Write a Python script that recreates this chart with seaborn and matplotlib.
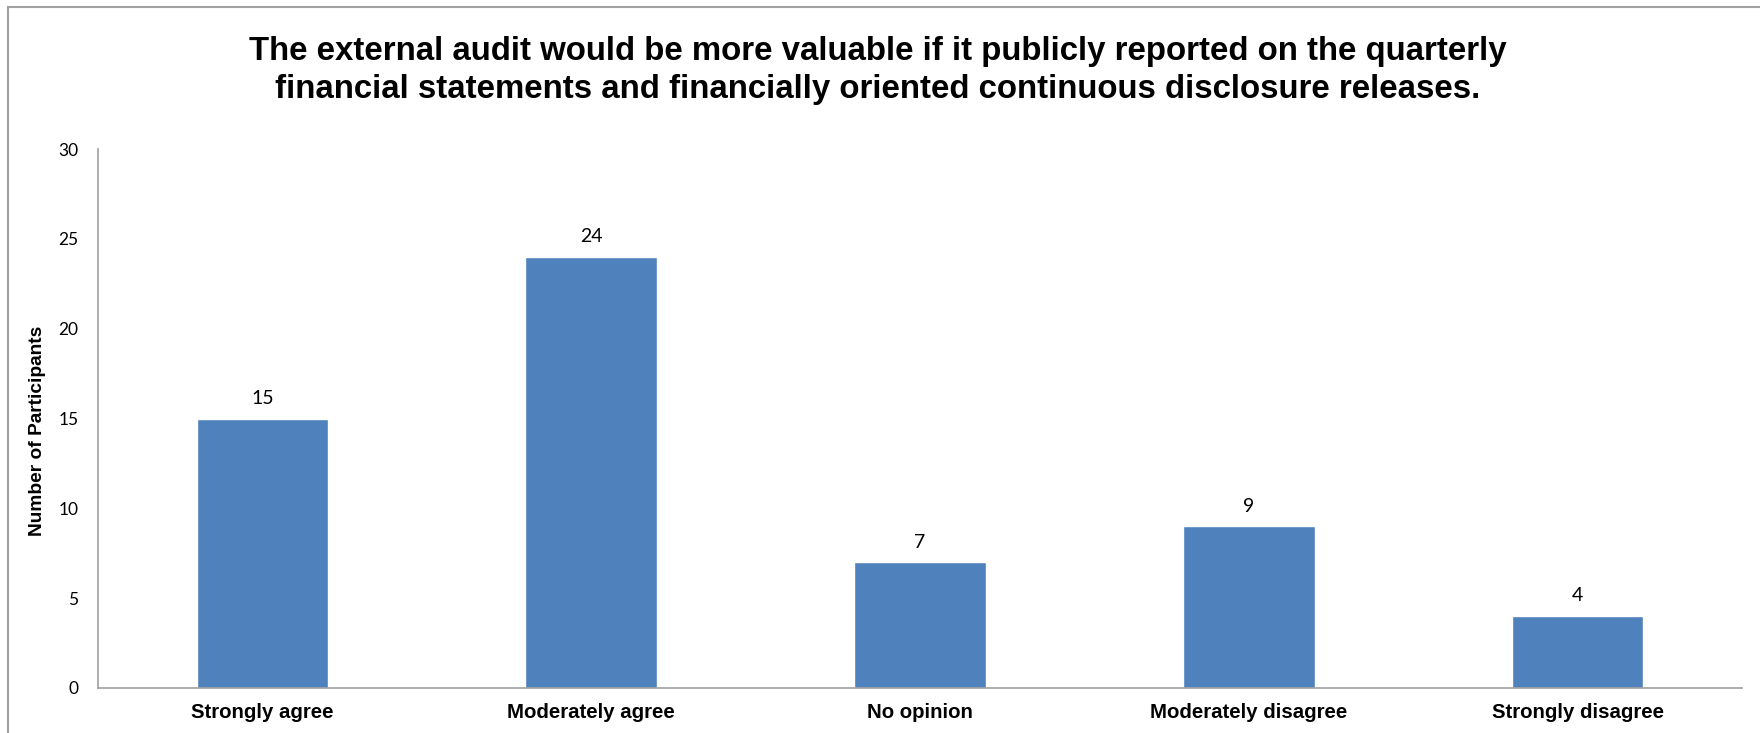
import matplotlib
matplotlib.use("Agg")
import matplotlib.pyplot as plt
import matplotlib.patches as mpatches
import pandas as pd
import seaborn as sns

# chart data
categories = ["Strongly agree", "Moderately agree", "No opinion",
              "Moderately disagree", "Strongly disagree"]
participants = [15, 24, 7, 9, 4]
y_ticks = [0, 5, 10, 15, 20, 25, 30]
title = ("The external audit would be more valuable if it publicly reported on the quarterly\n"
         "financial statements and financially oriented continuous disclosure releases.")

df = pd.DataFrame({"Response": categories, "Participants": participants})

sns.set_style("white")
plt.rcParams['font.family'] = ['Liberation Sans', 'DejaVu Sans']

W, H = 1760, 733
fig = plt.figure(figsize=(W / 100, H / 100), dpi=100)
ax = fig.add_axes([98 / W, 1 - 688 / H, (1742 - 98) / W, (688 - 149) / H])

sns.barplot(data=df, x="Response", y="Participants", color="#4F81BD",
            width=0.40, saturation=1, ax=ax)

for i, v in enumerate(participants):
    ax.text(i, v + 0.65, str(v), ha="center", va="bottom",
            fontsize=14, family=["Lato", "DejaVu Sans"], color="black")

ax.set_ylim(0, 30)
ax.set_yticks(y_ticks)
ax.set_yticklabels([str(t) for t in y_ticks], family=["Lato", "DejaVu Sans"],
                   fontsize=12.5, color="black")
ax.set_xlim(-0.5, 4.5)
ax.set_xticks(range(len(categories)))
ax.set_xticklabels(categories, fontsize=14.7, fontweight="bold", color="black")
ax.tick_params(axis="both", length=0, pad=11)
ax.tick_params(axis="y", pad=14)
ax.set_xlabel("")
ax.set_ylabel("")

for s in ["top", "right"]:
    ax.spines[s].set_visible(False)
for s in ["left", "bottom"]:
    ax.spines[s].set_color("#A0A0A0")
    ax.spines[s].set_linewidth(1.2)

fig.text(37 / W, 1 - 431 / H, "Number of Participants", rotation=90,
         ha="center", va="center", fontsize=13.8, fontweight="bold", color="black")

fig.text(878 / W, 1 - 36 / H, title, ha="center", va="top",
         fontsize=23.8, fontweight="bold", linespacing=1.3, color="black")

# outer chart frame (runs off the right and bottom edges)
frame = mpatches.Rectangle((8 / W, -0.05), 1.1, 1 - 7 / H + 0.05,
                           transform=fig.transFigure, fill=False,
                           edgecolor="#A0A0A0", linewidth=1.5)
fig.patches.append(frame)

fig.savefig("out.png", dpi=100)
